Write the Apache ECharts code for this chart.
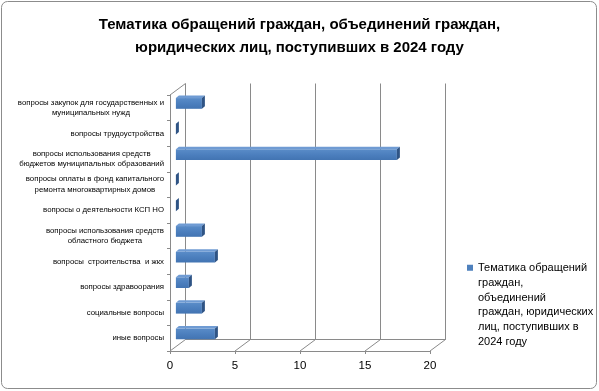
<!DOCTYPE html>
<html>
<head>
<meta charset="utf-8">
<script src="https://cdn.jsdelivr.net/npm/echarts@6/dist/echarts.min.js"></script>
<style>
html,body{margin:0;padding:0;background:#fff;}
#c{width:599px;height:391px;}
</style>
</head>
<body>
<div id="c"></div>
<script>
const categories = [
  "вопросы закупок для государственных и\nмуниципальных нужд",
  "вопросы трудоустройства",
  "вопросы использования средств\nбюджетов муниципальных образований",
  "вопросы оплаты в фонд капитального\nремонта многоквартирных домов",
  "вопросы о деятельности КСП НО",
  "вопросы использования средств\nобластного бюджета",
  "вопросы  строительства  и жкх",
  "вопросы здравоорания",
  "социальные вопросы",
  "иные вопросы"
];
const values = [2, 0, 17, 0, 0, 2, 3, 1, 2, 3];
const xTicks = [0, 5, 10, 15, 20];
const seriesName = "Тематика обращений граждан, объединений граждан, юридических лиц, поступивших в 2024 году";
const legendLines = ["Тематика обращений", "граждан,", "объединений", "граждан, юридических", "лиц, поступивших в", "2024 году"];
const titleText = "Тематика обращений граждан, объединений граждан,\nюридических лиц, поступивших в 2024 году";

const FONT = "Liberation Sans";
const LABEL_SIZE = 7.8;
const DX = 15.5, DY = -11.5;      // depth of back wall
const MF = 0.38;                   // bar plane position in depth
const BDX = 3, BDY = -2.5;         // bar depth
const front = {left: 170, top: 95, width: 260, height: 256};
const mid = {left: front.left + DX * MF, top: front.top + DY * MF, width: 260, height: 256};
const back = {left: front.left + DX, top: front.top + DY, width: 260, height: 256};
const gridColor = "#8a8a8a";

// centre multi-line labels within their block, block right-aligned to the axis
const ctx = document.createElement('canvas').getContext('2d');
ctx.font = LABEL_SIZE + 'px "' + FONT + '"';
const catData = categories.map(function (c) {
  const w = Math.max.apply(null, c.split('\n').map(function (s) { return ctx.measureText(s).width; }));
  return {value: c, textStyle: {align: 'center', padding: [0, w, 0, 0]}};
});

const chart = echarts.init(document.getElementById('c'), null, {renderer: 'canvas'});

function valAxis(idx, opts) {
  return Object.assign({
    type: 'value', gridIndex: idx, min: 0, max: 20, interval: 5,
    axisLine: {show: false}, axisTick: {show: false}, axisLabel: {show: false},
    splitLine: {show: false}
  }, opts || {});
}
function catAxis(idx, opts) {
  return Object.assign({
    type: 'category', gridIndex: idx, data: categories, inverse: true,
    axisLine: {show: false}, axisTick: {show: false}, axisLabel: {show: false},
    splitLine: {show: false}
  }, opts || {});
}

const option = {
  backgroundColor: '#fff',
  animation: false,
  title: {
    text: titleText,
    left: 'center', top: 8,
    textStyle: {fontFamily: FONT, fontSize: 15, fontWeight: 'bold', color: '#000', lineHeight: 23}
  },
  legend: {
    left: 462, top: 255, orient: 'vertical',
    data: [seriesName],
    icon: 'path://M0,0L0.01,0M0,4.75H6V10.75H0ZM0,90L0.01,90',
    itemWidth: 6, itemHeight: 90,
    formatter: function () { return legendLines.join('\n'); },
    textStyle: {fontFamily: FONT, fontSize: 11, lineHeight: 14.9, color: '#000'},
    selectedMode: false
  },
  graphic: [{
    type: 'rect', silent: true,
    shape: {x: 1.5, y: 1.5, width: 595, height: 387, r: 6},
    style: {fill: 'none', stroke: '#8c8c8c', lineWidth: 1}
  }],
  grid: [
    Object.assign({containLabel: false}, front),
    Object.assign({containLabel: false}, mid),
    Object.assign({containLabel: false}, back)
  ],
  xAxis: [
    valAxis(0, {
      axisLine: {show: true, lineStyle: {color: gridColor, width: 1}},
      axisTick: {show: true, length: 3, lineStyle: {color: gridColor}},
      axisLabel: {show: true, margin: 9, fontFamily: FONT, fontSize: 11.5, color: '#000'}
    }),
    valAxis(1),
    valAxis(2, {
      axisLine: {show: true, lineStyle: {color: gridColor, width: 1}},
      splitLine: {show: true, lineStyle: {color: gridColor, width: 1}}
    })
  ],
  yAxis: [
    catAxis(0, {
      data: catData,
      axisLine: {show: true, lineStyle: {color: gridColor, width: 1}},
      axisTick: {show: true, length: 3, lineStyle: {color: gridColor}},
      axisLabel: {show: true, margin: 6, fontFamily: FONT, fontSize: LABEL_SIZE, lineHeight: 10.5, color: '#000', align: 'right'}
    }),
    catAxis(1),
    catAxis(2)
  ],
  series: [
    {
      type: 'custom', name: 'walls', xAxisIndex: 0, yAxisIndex: 0, silent: true, clip: false,
      data: xTicks.map(function (v) { return [v]; }),
      renderItem: function (params, api) {
        const cs = params.coordSys;
        const v = api.value(0);
        const x = api.coord([v, 0])[0];
        const by = cs.y + cs.height;
        const children = [{
          type: 'line',
          shape: {x1: x, y1: by, x2: x + DX, y2: by + DY},
          style: {stroke: gridColor, lineWidth: 1}
        }];
        if (params.dataIndex === 0) {
          children.push({
            type: 'line',
            shape: {x1: cs.x, y1: cs.y, x2: cs.x + DX, y2: cs.y + DY},
            style: {stroke: gridColor, lineWidth: 1}
          });
        }
        return {type: 'group', children: children};
      }
    },
    {
      type: 'custom', name: seriesName, xAxisIndex: 1, yAxisIndex: 1, clip: false,
      itemStyle: {color: '#4F81BD'},
      data: values.map(function (v, i) { return [v, i]; }),
      encode: {x: 0, y: 1},
      renderItem: function (params, api) {
        const v = api.value(0);
        const ci = api.value(1);
        const p0 = api.coord([0, ci]);
        const p1 = api.coord([v, ci]);
        const band = api.size([0, 1])[1];
        const h = band * 0.42;
        const x0 = p0[0], x1 = p1[0];
        const yt = p0[1] - h / 2, yb = p0[1] + h / 2;
        const children = [];
        if (x1 - x0 > 0.5) {
          children.push({
            type: 'rect',
            shape: {x: x0, y: yt, width: x1 - x0, height: h},
            style: {fill: new echarts.graphic.LinearGradient(0, 0, 0, 1, [
              {offset: 0, color: '#5a8cc8'}, {offset: 0.5, color: '#4c7fbe'}, {offset: 1, color: '#4274b2'}
            ])}
          });
          children.push({
            type: 'polygon',
            shape: {points: [[x0, yt], [x1, yt], [x1 + BDX, yt + BDY], [x0 + BDX, yt + BDY]]},
            style: {fill: '#6f9bd3'}
          });
        }
        children.push({
          type: 'polygon',
          shape: {points: [[x1, yt], [x1 + BDX, yt + BDY], [x1 + BDX, yb + BDY], [x1, yb]]},
          style: {fill: '#2f5485'}
        });
        return {type: 'group', children: children};
      }
    }
  ]
};
chart.setOption(option);
</script>
</body>
</html>
